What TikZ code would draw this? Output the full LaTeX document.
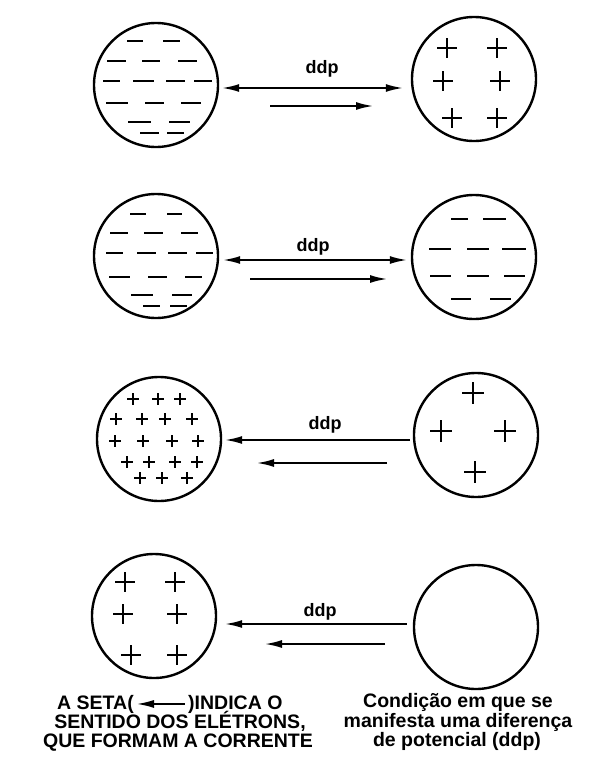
\documentclass[tikz,border=0pt]{standalone}
\usepackage{fontspec}
\setmainfont{Liberation Sans}
\usetikzlibrary{arrows.meta}
\usetikzlibrary{positioning}

\begin{document}
\begin{tikzpicture}[x=1pt,y=-1pt,
            >={Latex[length=17pt,width=8pt]},
            ball/.style = {draw,circle,line width=2.4pt,
                minimum size=124pt,inner sep=0pt},
            minus/.style = {line width=2pt},
            plus/.style = {line width=1.6pt},
            flow/.style = {line width=1.8pt},
            lbl/.style = {font=\bfseries\fontsize{18}{18}\selectfont,inner sep=0pt},
            txt/.style = {font=\bfseries\fontsize{19.5}{18.5}\selectfont,
                inner sep=0pt,anchor=base}]
            \useasboundingbox (0,0) rectangle (590,771);
            % row 1
            \node[ball] (c1l) at (156,85) {};
            \node[ball] (c1r) at (474,79) {};
            \coordinate (a1) at (313,88);
            \coordinate (b1s) at (270,106);
            \coordinate (b1e) at (373,106);
            \node[lbl] (d1) at (322,69) {ddp};
            \draw[flow,<->,shorten <=3pt,shorten >=8pt] (c1l.east |- a1) -- (c1r.west |- a1);
            \draw[flow,->] (b1s) -- (b1e);
            \foreach \a/\b/\y in {127/143/41,163/180/41,
                    107/126/61,142/160/61,178/197/61,
                    103/120/81,133/154/81,166/185/81,194/212/81,
                    106/128/103,145/164/103,181/201/103,
                    128/151/122,169/190/122,140/159/133,167/184/133}
                \draw[minus] (\a,\y) -- (\b,\y);
            \foreach \x/\y in {447/48,497/48,443/81,500/81,452/118,497/118}
                \draw[plus] (\x-10,\y) -- (\x+10,\y) (\x,\y-10) -- (\x,\y+10);
            % row 2
            \node[ball] (c2l) at (156,256) {};
            \node[ball] (c2r) at (474,257) {};
            \coordinate (a2) at (313,260);
            \coordinate (b2s) at (250,279);
            \coordinate (b2e) at (387,279);
            \node[lbl] (d2) at (313,247) {ddp};
            \draw[flow,<->,shorten <=4pt,shorten >=4pt] (c2l.east |- a2) -- (c2r.west |- a2);
            \draw[flow,->] (b2s) -- (b2e);
            \foreach \a/\b/\y in {130/146/214,167/182/214,
                    110/128/233,144/163/233,181/198/233,
                    106/123/253,137/156/253,168/187/253,196/213/253,
                    109/130/277,148/167/277,185/202/277,
                    131/153/295,172/192/295,143/160/306,170/187/306,
                    451/468/219,483/506/219,
                    429/451/249,467/489/249,502/526/249,
                    430/451/276,467/489/276,504/525/276,
                    451/471/299,490/511/299}
                \draw[minus] (\a,\y) -- (\b,\y);
            % row 3
            \node[ball] (c3l) at (159,439) {};
            \node[ball] (c3r) at (476,435) {};
            \coordinate (a3) at (325,440);
            \coordinate (b3s) at (387,463);
            \coordinate (b3e) at (257,463);
            \node[lbl] (d3) at (325,425) {ddp};
            \draw[flow,<-,shorten <=3pt,shorten >=3pt] (c3l.east |- a3) -- (c3r.west |- a3);
            \draw[flow,->] (b3s) -- (b3e);
            \foreach \x/\y in {133/399,158/399,180/399,
                    116/419,142/419,165/419,192/419,
                    115/441,143/441,172/441,198/441,
                    127/462,149/462,175/462,197/462,
                    140/478,162/478,187/478}
                \draw[line width=2.2pt] (\x-6,\y) -- (\x+6,\y) (\x,\y-6) -- (\x,\y+6);
            \foreach \x/\y in {473/393,441/431,505/431,475/472}
                \draw[plus] (\x-11,\y) -- (\x+11,\y) (\x,\y-11) -- (\x,\y+11);
            % row 4
            \node[ball] (c4l) at (154,616) {};
            \node[ball] (c4r) at (476,627) {};
            \coordinate (a4) at (320,624);
            \coordinate (b4s) at (385,644);
            \coordinate (b4e) at (265,644);
            \node[lbl] (d4) at (320,612) {ddp};
            \draw[flow,<-,shorten <=8pt,shorten >=6pt] (c4l.east |- a4) -- (c4r.west |- a4);
            \draw[flow,->] (b4s) -- (b4e);
            \foreach \x/\y in {125/582,175/582,123/614,177/614,131/655,177/655}
                \draw[plus] (\x-10,\y) -- (\x+10,\y) (\x,\y-10) -- (\x,\y+10);
            % captions
            \node[txt,anchor=base east] (t1a) at (134,709) {A SETA(};
            \node[txt,anchor=base west] (t1b) at (188,709) {)INDICA O};
            \draw[line width=1.5pt,<-,shorten <=3pt,shorten >=3pt] (t1a.east) -- (t1b.west);
            \node[txt] (t2) at (180,728) {SENTIDO DOS ELÉTRONS,};
            \node[txt] (t3) at (178,747) {QUE FORMAM A CORRENTE};
            \node[txt] (r1) at (458,707) {Condição em que se};
            \node[txt] (r2) at (458,727) {manifesta uma diferença};
            \node[txt] (r3) at (457,746) {de potencial (ddp)};
\end{tikzpicture}
\end{document}
